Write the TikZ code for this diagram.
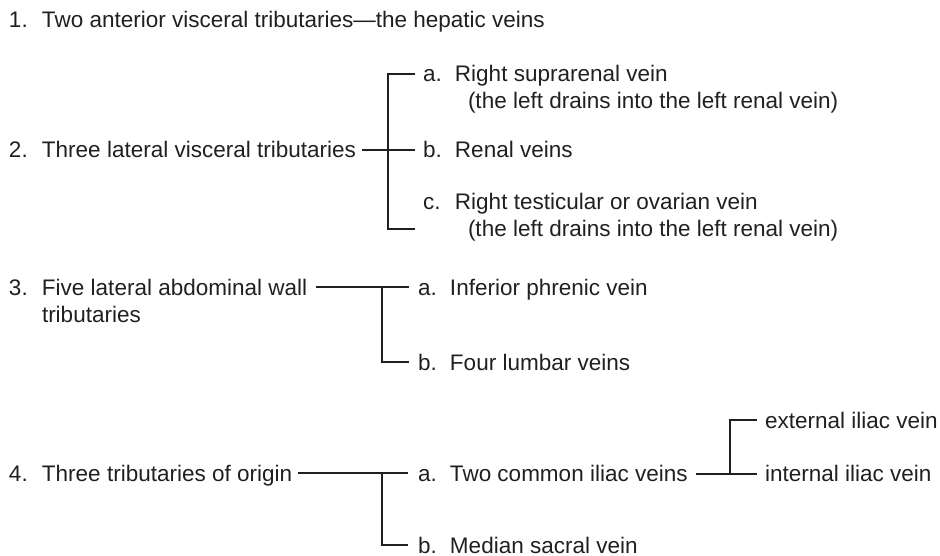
\documentclass[tikz,border=0pt]{standalone}
\usepackage{fontspec}
\setmainfont{Liberation Sans}
\definecolor{ink}{HTML}{231F20}
\newcommand{\numlbl}[1]{\makebox[33pt][l]{#1}}
\newcommand{\letlbl}[1]{\makebox[32pt][l]{#1}}
\begin{document}
\begin{tikzpicture}[x=1pt,y=-1pt,
  txt/.style={anchor=base west,inner sep=0pt,outer sep=0pt,font=\fontsize{22.5}{27}\selectfont,text=ink},
  conn/.style={draw=ink,line width=1.2pt}]
\useasboundingbox (0,0) rectangle (940,556);

% item 1
\node[txt] (n1) at (9,28) {\numlbl{1.}Two anterior visceral tributaries—the hepatic veins};

% item 2
\node[txt] (n2) at (9,158) {\numlbl{2.}Three lateral visceral tributaries};
\node[txt] (n2a) at (423,82) {\letlbl{a.}Right suprarenal vein};
\node[txt] (n2ap) at (468,109) {(the left drains into the left renal vein)};
\node[txt] (n2b) at (423,158) {\letlbl{b.}Renal veins};
\node[txt] (n2c) at (423,210) {\letlbl{c.}Right testicular or ovarian vein};
\node[txt] (n2cp) at (468,237) {(the left drains into the left renal vein)};

% item 3
\node[txt] (n3) at (9,295) {\numlbl{3.}Five lateral abdominal wall};
\node[txt] (n3t) at (42,322) {tributaries};
\node[txt] (n3a) at (418,295) {\letlbl{a.}Inferior phrenic vein};
\node[txt] (n3b) at (418,370) {\letlbl{b.}Four lumbar veins};

% item 4
\node[txt] (n4) at (9,481) {\numlbl{4.}Three tributaries of origin};
\node[txt] (n4a) at (418,481) {\letlbl{a.}Two common iliac veins};
\node[txt] (n4b) at (418,553) {\letlbl{b.}Median sacral vein};
\node[txt] (ext) at (765,428) {external iliac vein};
\node[txt] (int) at (765,481) {internal iliac vein};

% connector points
\coordinate (c2s) at (362,150);
\coordinate (c2be) at (415,150);
\coordinate (j2a) at (388,74);
\coordinate (j2c) at (388,229);
\coordinate (c2ae) at (415,74);
\coordinate (c2ce) at (415,229);

\coordinate (c3s) at (316,287);
\coordinate (c3ae) at (409,287);
\coordinate (j3) at (382,287);
\coordinate (j3b) at (382,362);
\coordinate (c3be) at (409,362);

\coordinate (c4s) at (298,473);
\coordinate (c4ae) at (408,473);
\coordinate (j4) at (382,473);
\coordinate (j4b) at (382,545);
\coordinate (c4be) at (408,545);

\coordinate (cis) at (696,474);
\coordinate (cie) at (757,474);
\coordinate (ji) at (730,474);
\coordinate (jie) at (730,420);
\coordinate (cee) at (757,420);

% connectors
\draw[conn] (c2s) -- (c2be);
\draw[conn] (c2ae) -- (j2a) -- (j2c) -- (c2ce);

\draw[conn] (c3s) -- (c3ae);
\draw[conn] (j3) -- (j3b) -- (c3be);

\draw[conn] (c4s) -- (c4ae);
\draw[conn] (j4) -- (j4b) -- (c4be);

\draw[conn] (cis) -- (cie);
\draw[conn] (ji) -- (jie) -- (cee);
\end{tikzpicture}
\end{document}
